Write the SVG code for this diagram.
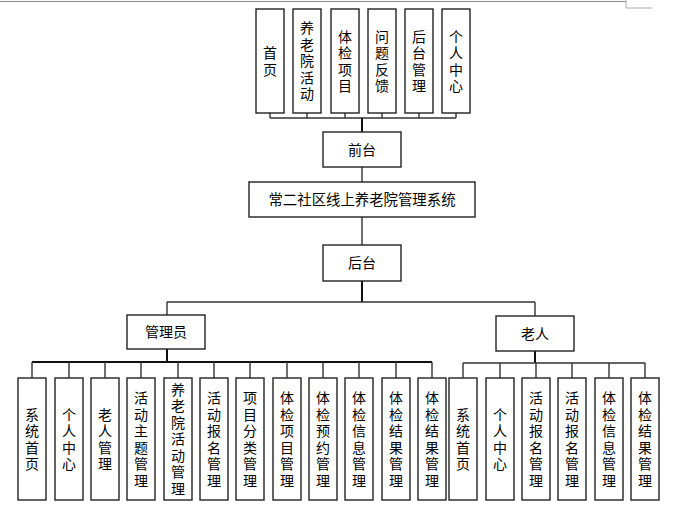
<svg xmlns="http://www.w3.org/2000/svg" width="676" height="513" viewBox="0 0 676 513">
<style>
.box{fill:#fff;stroke:#222;stroke-width:1.4}
.ln{stroke:#333;stroke-width:1.4;fill:none}
.lnb{stroke:#111;stroke-width:2;fill:none}
text{font-family:"Noto Sans CJK SC","Noto Sans",sans-serif;font-size:14px;fill:#000}
.c{text-anchor:middle}
.v{text-anchor:middle;writing-mode:vertical-rl;text-orientation:upright;letter-spacing:2.5px}
</style>
<rect width="676" height="513" fill="#fff"/>
<g id="page-border">
<line x1="0" y1="1.5" x2="626" y2="1.5" stroke="#888" stroke-width="1.2"/>
<polyline points="626,0 626,8 652,8" fill="none" stroke="#aaa" stroke-width="1"/>
</g>
<g id="connectors">
<path class="ln" d="M270,113V118M307,113V118M345,113V118M382,113V118M419,113V118M456,113V118M270,118H456"/>
<path class="lnb" d="M362,118V132"/>
<path class="ln" d="M362,167V182M362,217V245"/>
<path class="lnb" d="M362,281V302"/>
<path class="ln" d="M167,302H535M167,302V315M535,302V316"/>
<path class="lnb" d="M167,349V362M32,362H432"/>
<path class="ln" d="M32,362V378M69,362V378M105,362V378M141,362V378M178,362V378M214,362V378M250,362V378M287,362V378M323,362V378M359,362V378M396,362V378M432,362V378"/>
<path class="lnb" d="M535,351V363"/>
<path class="ln" d="M463,363H645M463,363V378M500,363V378M536,363V378M572,363V378M609,363V378M645,363V378"/>
</g>
<g id="n-home"><rect class="box" x="256" y="9" width="28" height="104"/><text class="v" x="270" y="62.2">首页</text></g>
<g id="n-activity"><rect class="box" x="293" y="9" width="28" height="104"/><text class="v" x="307" y="62.2">养老院活动</text></g>
<g id="n-exam"><rect class="box" x="331" y="9" width="28" height="104"/><text class="v" x="345" y="62.2">体检项目</text></g>
<g id="n-feedback"><rect class="box" x="368" y="9" width="28" height="104"/><text class="v" x="382" y="62.2">问题反馈</text></g>
<g id="n-backend-mgmt"><rect class="box" x="405" y="9" width="28" height="104"/><text class="v" x="419" y="62.2">后台管理</text></g>
<g id="n-profile"><rect class="box" x="442" y="9" width="28" height="104"/><text class="v" x="456" y="62.2">个人中心</text></g>
<g id="n-frontend"><rect class="box" x="323" y="132" width="78" height="35"/><text class="c" x="362" y="154.8">前台</text></g>
<g id="n-system"><rect class="box" x="249" y="182" width="226" height="35"/><text class="c" x="362" y="204.8" style="font-size:14.4px">常二社区线上养老院管理系统</text></g>
<g id="n-backend"><rect class="box" x="323" y="245" width="78" height="36"/><text class="c" x="362" y="268.3">后台</text></g>
<g id="n-admin"><rect class="box" x="127" y="315" width="78" height="34"/><text class="c" x="166" y="337.3">管理员</text></g>
<g id="n-elder"><rect class="box" x="496" y="316" width="78" height="35"/><text class="c" x="535" y="338.8">老人</text></g>
<g id="a1"><rect class="box" x="18" y="378" width="28" height="122"/><text class="v" x="32" y="440.2">系统首页</text></g>
<g id="a2"><rect class="box" x="55" y="378" width="28" height="122"/><text class="v" x="69" y="440.2">个人中心</text></g>
<g id="a3"><rect class="box" x="91" y="378" width="28" height="122"/><text class="v" x="105" y="440.2">老人管理</text></g>
<g id="a4"><rect class="box" x="127" y="378" width="28" height="122"/><text class="v" x="141" y="440.2">活动主题管理</text></g>
<g id="a5"><rect class="box" x="164" y="378" width="28" height="122"/><text class="v" x="178" y="440.2">养老院活动管理</text></g>
<g id="a6"><rect class="box" x="200" y="378" width="28" height="122"/><text class="v" x="214" y="440.2">活动报名管理</text></g>
<g id="a7"><rect class="box" x="236" y="378" width="28" height="122"/><text class="v" x="250" y="440.2">项目分类管理</text></g>
<g id="a8"><rect class="box" x="273" y="378" width="28" height="122"/><text class="v" x="287" y="440.2">体检项目管理</text></g>
<g id="a9"><rect class="box" x="309" y="378" width="28" height="122"/><text class="v" x="323" y="440.2">体检预约管理</text></g>
<g id="a10"><rect class="box" x="345" y="378" width="28" height="122"/><text class="v" x="359" y="440.2">体检信息管理</text></g>
<g id="a11"><rect class="box" x="382" y="378" width="28" height="122"/><text class="v" x="396" y="440.2">体检结果管理</text></g>
<g id="a12"><rect class="box" x="418" y="378" width="28" height="122"/><text class="v" x="432" y="440.2">体检结果管理</text></g>
<g id="e1"><rect class="box" x="449" y="378" width="28" height="122"/><text class="v" x="463" y="440.2">系统首页</text></g>
<g id="e2"><rect class="box" x="486" y="378" width="28" height="122"/><text class="v" x="500" y="440.2">个人中心</text></g>
<g id="e3"><rect class="box" x="522" y="378" width="28" height="122"/><text class="v" x="536" y="440.2">活动报名管理</text></g>
<g id="e4"><rect class="box" x="558" y="378" width="28" height="122"/><text class="v" x="572" y="440.2">活动报名管理</text></g>
<g id="e5"><rect class="box" x="595" y="378" width="28" height="122"/><text class="v" x="609" y="440.2">体检信息管理</text></g>
<g id="e6"><rect class="box" x="631" y="378" width="28" height="122"/><text class="v" x="645" y="440.2">体检结果管理</text></g>
</svg>
